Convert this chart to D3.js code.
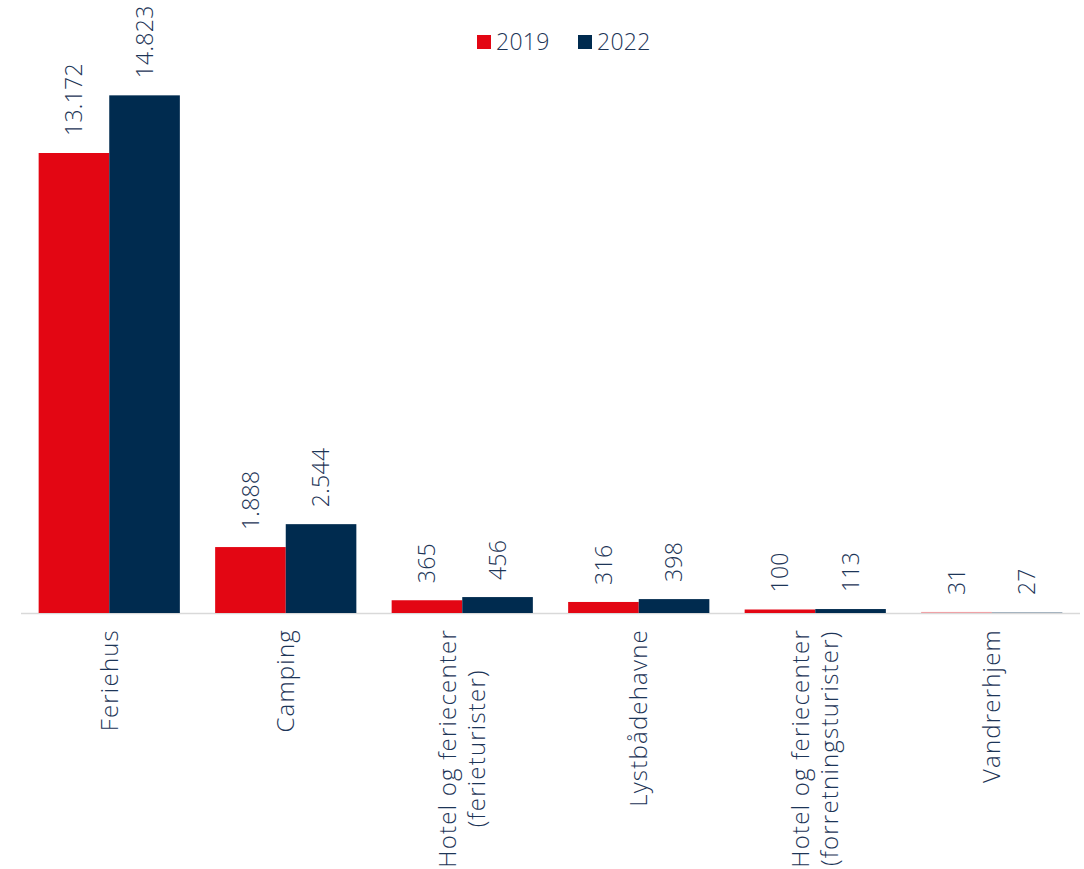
<!DOCTYPE html>
<html>
<head>
<meta charset="utf-8">
<script src="https://cdn.jsdelivr.net/npm/d3@7"></script>
<style>
  body { margin: 0; background: #fff; }
  text { font-family: "Open Sans", sans-serif; font-weight: 300; fill: #1d3557; }
</style>
</head>
<body>
<svg id="chart" width="1084" height="869"></svg>
<script>
const categories = ["Feriehus", "Camping", "Hotel og feriecenter\n(ferieturister)", "Lystbådehavne", "Hotel og feriecenter\n(forretningsturister)", "Vandrerhjem"];
const seriesNames = ["2019", "2022"];
const values2019 = [13172, 1888, 365, 316, 100, 31];
const values2022 = [14823, 2544, 456, 398, 113, 27];
const valueLabels2019 = ["13.172", "1.888", "365", "316", "100", "31"];
const valueLabels2022 = ["14.823", "2.544", "456", "398", "113", "27"];
const colors = ["#e30613", "#002b4f"];

const svg = d3.select("#chart");
const baseY = 613;
const x0 = d3.scaleBand().domain(d3.range(categories.length)).range([21, 1080]).paddingInner(0.2).paddingOuter(0.1);
const x1 = d3.scaleBand().domain(seriesNames).range([0, x0.bandwidth()]);
const y = d3.scaleLinear().domain([0, 16000]).range([baseY, baseY - 16000 * (460 / 13172)]);

const data = categories.map((c, i) => ({
  i, c,
  vals: [
    { s: "2019", v: values2019[i], l: valueLabels2019[i], col: colors[0] },
    { s: "2022", v: values2022[i], l: valueLabels2022[i], col: colors[1] }
  ]
}));

// axis line
svg.append("line").attr("x1", 21).attr("x2", 1080).attr("y1", baseY + 0.5).attr("y2", baseY + 0.5)
  .attr("stroke", "#d9d9d9").attr("stroke-width", 1.5);

const g = svg.selectAll("g.cat").data(data).join("g").attr("class", "cat")
  .attr("transform", d => `translate(${x0(d.i)},0)`);

g.selectAll("rect").data(d => d.vals).join("rect")
  .attr("x", d => x1(d.s)).attr("width", x1.bandwidth())
  .attr("y", d => y(d.v)).attr("height", d => baseY - y(d.v))
  .attr("fill", d => d.col)
  .attr("fill-opacity", d => (baseY - y(d.v)) < 1.5 ? 0.35 : 1);

g.selectAll("text.val").data(d => d.vals).join("text").attr("class", "val")
  .attr("transform", d => `translate(${x1(d.s) + x1.bandwidth() / 2},${y(d.v) - 17}) rotate(-90)`)
  .attr("dy", "0.35em")
  .style("font-size", "23px")
  .style("letter-spacing", "0.3px")
  .text(d => d.l);

// category labels
g.each(function(d) {
  const lines = d.c.split("\n");
  const cx = x0.bandwidth() / 2;
  const lh = 29;
  const sel = d3.select(this);
  const texts = lines.map((ln, k) => {
    const off = (k - (lines.length - 1) / 2) * lh;
    return sel.append("text").style("font-size", "24px").style("letter-spacing", "1.2px")
      .attr("text-anchor", "middle").attr("dy", "0.35em").datum(off).text(ln);
  });
  const maxLen = d3.max(texts, t => t.node().getComputedTextLength());
  const cy = 629 + maxLen / 2;
  texts.forEach(t => t.attr("transform", `translate(${cx + t.datum()},${cy}) rotate(-90)`));
});

// legend
const legend = [{ n: "2019", col: colors[0], x: 477 }, { n: "2022", col: colors[1], x: 578 }];
const lg = svg.selectAll("g.leg").data(legend).join("g").attr("class", "leg")
  .attr("transform", d => `translate(${d.x},35)`);
lg.append("rect").attr("width", 14).attr("height", 14).attr("fill", d => d.col);
lg.append("text").attr("x", 19).attr("y", 15).style("font-size", "23px").style("letter-spacing", "0.3px").text(d => d.n);
</script>
</body>
</html>
